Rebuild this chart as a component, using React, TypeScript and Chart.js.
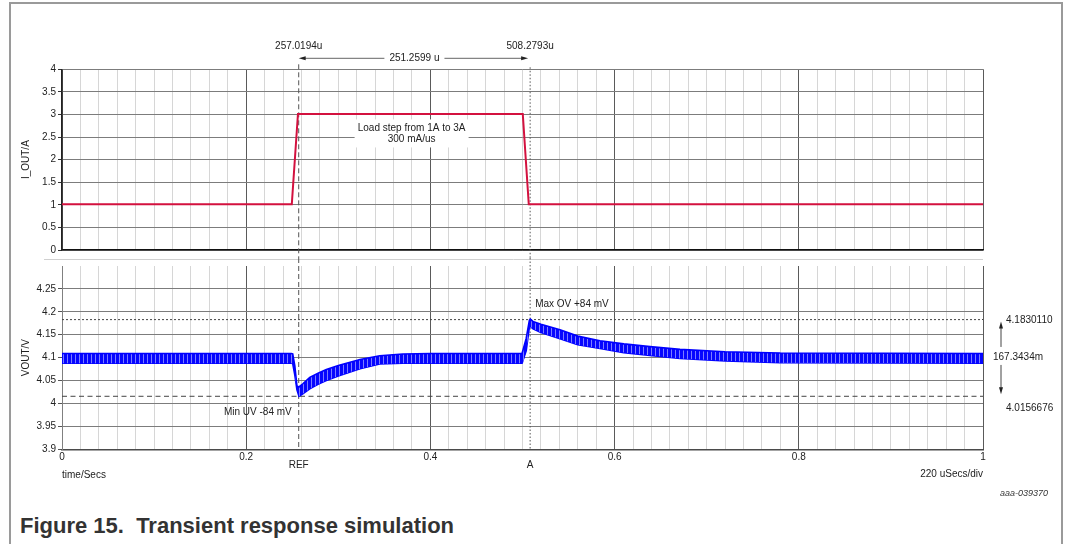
import React, { useEffect, useRef } from 'react';
import { Chart, registerables } from 'chart.js';

Chart.register(...registerables);

const FONT = '"Liberation Sans", Arial, Helvetica, sans-serif';

// ---------------- data ----------------
const xTickLabels = ['0', '0.2', '0.4', '0.6', '0.8', '1'];
const iTickLabels = ['0', '0.5', '1', '1.5', '2', '2.5', '3', '3.5', '4'];
const vTickLabels = ['3.9', '3.95', '4', '4.05', '4.1', '4.15', '4.2', '4.25'];

// load current I_OUT (A) vs time
const iTimes = [0, 0.2495, 0.2562, 0.5003, 0.5068, 1];
const iValues = [1.01, 1.01, 3.01, 3.01, 1.01, 1.01];

// output voltage VOUT (V) ripple band: upper and lower envelope vs time
const vTimes = [0, 0.249, 0.2505, 0.2528, 0.2551, 0.2573, 0.2615, 0.269, 0.278, 0.287, 0.3, 0.3236, 0.345, 0.37, 0.4, 0.4995, 0.5005, 0.504, 0.5075, 0.5085, 0.5114, 0.52, 0.5407, 0.56, 0.5841, 0.61, 0.6384, 0.671, 0.72, 0.78, 1];
const vHigh = [4.109, 4.109, 4.108, 4.082, 4.038, 4.036, 4.043, 4.057, 4.066, 4.074, 4.083, 4.096, 4.104, 4.108, 4.109, 4.109, 4.109, 4.142, 4.182, 4.184, 4.179, 4.173, 4.161, 4.147, 4.137, 4.13, 4.124, 4.118, 4.113, 4.11, 4.109];
const vLow = [4.088, 4.088, 4.087, 4.062, 4.03, 4.0157, 4.021, 4.032, 4.042, 4.05, 4.06, 4.076, 4.086, 4.088, 4.088, 4.088, 4.088, 4.115, 4.167, 4.168, 4.163, 4.155, 4.141, 4.128, 4.12, 4.111, 4.105, 4.098, 4.093, 4.089, 4.088];

// cursors / measurements
const refTime = 0.2570194;
const aTime = 0.5082793;
const refLabel = '257.0194u';
const aLabel = '508.2793u';
const deltaLabel = '251.2599 u';
const maxOvLevel = 4.183011;
const minUvLevel = 4.0156676;
const maxOvLabel = '4.1830110';
const minUvLabel = '4.0156676';
const spanLabel = '167.3434m';
const maxOvText = 'Max OV +84 mV';
const minUvText = 'Min UV -84 mV';
const loadStepLines = ['Load step from 1A to 3A', '300 mA/us'];
const loadLabelTime = 0.3796;
const loadLabelLevel = 2.58;

// --------------------------------------
const isMajor = (v: number) => Math.abs(v * 5 - Math.round(v * 5)) < 1e-6;
const xGridColor = (c: any) => (c.tick && isMajor(c.tick.value) ? '#5a5a5a' : '#d6d6d6');

function text(ctx: CanvasRenderingContext2D, s: string, x: number, y: number, align: CanvasTextAlign, font = `10px ${FONT}`, color = '#222') {
  ctx.font = font;
  ctx.fillStyle = color;
  ctx.textAlign = align;
  ctx.textBaseline = 'middle';
  ctx.fillText(s, x, y);
}
function seg(ctx: CanvasRenderingContext2D, x1: number, y1: number, x2: number, y2: number) {
  ctx.beginPath();
  ctx.moveTo(x1, y1);
  ctx.lineTo(x2, y2);
  ctx.stroke();
}
function tri(ctx: CanvasRenderingContext2D, pts: number[][]) {
  ctx.beginPath();
  ctx.moveTo(pts[0][0], pts[0][1]);
  ctx.lineTo(pts[1][0], pts[1][1]);
  ctx.lineTo(pts[2][0], pts[2][1]);
  ctx.closePath();
  ctx.fill();
}

const topPlugin = {
  id: 'topAnn',
  beforeDatasetsDraw(chart: any) {
    const { ctx, chartArea, scales } = chart;
    const xr = scales.x.getPixelForValue(refTime);
    const xa = scales.x.getPixelForValue(aTime);
    ctx.save();
    ctx.strokeStyle = '#555';
    ctx.lineWidth = 1;
    ctx.setLineDash([5, 3]);
    seg(ctx, xr, chartArea.top - 5, xr, chart.height);
    ctx.setLineDash([1.5, 2]);
    seg(ctx, xa, chartArea.top - 2, xa, chart.height);
    ctx.restore();
  },
  afterDatasetsDraw(chart: any) {
    const { ctx, chartArea, scales } = chart;
    const xr = scales.x.getPixelForValue(refTime);
    const xa = scales.x.getPixelForValue(aTime);
    ctx.save();
    text(ctx, refLabel, xr, chartArea.top - 23, 'center');
    text(ctx, aLabel, xa, chartArea.top - 23, 'center');
    const ya = chartArea.top - 11;
    const xm = (xr + xa) / 2;
    ctx.font = `10px ${FONT}`;
    const w = ctx.measureText(deltaLabel).width;
    text(ctx, deltaLabel, xm, ya, 'center');
    ctx.strokeStyle = '#666';
    ctx.fillStyle = '#222';
    ctx.lineWidth = 1;
    seg(ctx, xr + 4, ya, xm - w / 2 - 5, ya);
    seg(ctx, xm + w / 2 + 5, ya, xa - 5, ya);
    tri(ctx, [[xr, ya], [xr + 7, ya - 2], [xr + 7, ya + 2]]);
    tri(ctx, [[xa - 2, ya], [xa - 9, ya - 2], [xa - 9, ya + 2]]);
    // load step label box
    const cx = scales.x.getPixelForValue(loadLabelTime);
    const cy = scales.y.getPixelForValue(loadLabelLevel);
    ctx.fillStyle = '#fff';
    ctx.fillRect(cx - 57, cy - 14, 114, 28);
    text(ctx, loadStepLines[0], cx, cy - 5.5, 'center');
    text(ctx, loadStepLines[1], cx, cy + 5.5, 'center');
    ctx.restore();
  },
};

const bottomPlugin = {
  id: 'botAnn',
  beforeDatasetsDraw(chart: any) {
    const { ctx, chartArea, scales } = chart;
    const xr = scales.x.getPixelForValue(refTime);
    const xa = scales.x.getPixelForValue(aTime);
    ctx.save();
    ctx.strokeStyle = '#d0d0d0';
    ctx.lineWidth = 1;
    seg(ctx, 44, 1.5, chartArea.right, 1.5);
    ctx.strokeStyle = '#555';
    ctx.setLineDash([5, 3]);
    seg(ctx, xr, 0, xr, chartArea.bottom);
    ctx.setLineDash([1.5, 2]);
    seg(ctx, xa, 0, xa, chartArea.bottom);
    ctx.restore();
  },
  afterDatasetsDraw(chart: any) {
    const { ctx, chartArea, scales } = chart;
    const xr = scales.x.getPixelForValue(refTime);
    const xa = scales.x.getPixelForValue(aTime);
    const yHi = scales.y.getPixelForValue(maxOvLevel);
    const yLo = scales.y.getPixelForValue(minUvLevel);
    ctx.save();
    text(ctx, maxOvText, xa + 5, yHi - 15.5, 'left');
    text(ctx, minUvText, xr - 7, yLo + 16.3, 'right');
    const r = chartArea.right;
    text(ctx, maxOvLabel, r + 23, yHi + 1, 'left');
    text(ctx, minUvLabel, r + 23, yLo + 12.3, 'left');
    const ym = (yHi + yLo) / 2 - 1;
    text(ctx, spanLabel, r + 10, ym, 'left');
    ctx.strokeStyle = '#444';
    ctx.fillStyle = '#222';
    ctx.lineWidth = 1;
    const ax = r + 18;
    seg(ctx, ax, yHi + 6, ax, ym - 10);
    seg(ctx, ax, ym + 8, ax, yLo - 6);
    tri(ctx, [[ax, yHi + 2], [ax - 2, yHi + 9], [ax + 2, yHi + 9]]);
    tri(ctx, [[ax, yLo - 2], [ax - 2, yLo - 9], [ax + 2, yLo - 9]]);
    const b = chartArea.bottom;
    text(ctx, 'REF', xr, b + 16, 'center');
    text(ctx, 'A', xa, b + 16, 'center');
    text(ctx, 'time/Secs', chartArea.left, b + 26, 'left');
    text(ctx, '220 uSecs/div', r, b + 25, 'right');
    text(ctx, 'aaa-039370', 1048, b + 44, 'right', `italic 9px ${FONT}`, '#333');
    ctx.restore();
  },
};

export default function App() {
  const topRef = useRef<HTMLCanvasElement>(null);
  const botRef = useRef<HTMLCanvasElement>(null);

  useEffect(() => {
    Chart.defaults.font.family = FONT;
    Chart.defaults.font.size = 10;
    Chart.defaults.color = '#222';

    const topChart = new Chart(topRef.current as HTMLCanvasElement, {
      type: 'line',
      data: {
        datasets: [
          {
            data: iTimes.map((t, i) => ({ x: t, y: iValues[i] })),
            borderColor: '#d3113f',
            borderWidth: 2,
            pointRadius: 0,
            tension: 0,
          },
        ],
      },
      options: {
        animation: false,
        responsive: false,
        events: [],
        layout: { padding: { left: 16, right: 86, top: 69.3, bottom: 0 } },
        plugins: { legend: { display: false }, tooltip: { enabled: false } },
        scales: {
          x: {
            type: 'linear',
            min: 0,
            max: 1,
            ticks: { display: false, stepSize: 0.02, autoSkip: false },
            grid: { color: xGridColor, lineWidth: 1, drawTicks: false },
            border: { color: '#111', width: 1.5 },
            afterFit: (s: any) => { s.height = 4.7; },
          },
          y: {
            type: 'linear',
            min: 0,
            max: 4,
            ticks: { stepSize: 0.5, padding: 2, color: '#222', callback: (_v: any, i: number) => iTickLabels[i] ?? '' },
            grid: { color: '#7c7c7c', tickLength: 4, tickColor: '#333' },
            border: { color: '#222', width: 1.5 },
            title: { display: true, text: 'I_OUT/A', color: '#222', font: { size: 10 }, padding: { top: 4, bottom: 4 } },
            afterFit: (s: any) => { s.width = 46; },
          },
        },
      } as any,
      plugins: [topPlugin],
    });

    const bctx = (botRef.current as HTMLCanvasElement).getContext('2d') as CanvasRenderingContext2D;
    const pc = document.createElement('canvas');
    pc.width = 4;
    pc.height = 1;
    const pctx = pc.getContext('2d') as CanvasRenderingContext2D;
    pctx.fillStyle = '#0606ff';
    pctx.fillRect(0, 0, 4, 1);
    pctx.fillStyle = '#7d7dff';
    pctx.fillRect(3, 0, 1, 1);
    const pattern = bctx.createPattern(pc, 'repeat');

    const botChart = new Chart(botRef.current as HTMLCanvasElement, {
      type: 'line',
      data: {
        datasets: [
          {
            data: vTimes.map((t, i) => ({ x: t, y: vHigh[i] })),
            borderColor: '#0000ff',
            borderWidth: 1.6,
            pointRadius: 0,
            tension: 0,
            fill: '+1',
            backgroundColor: pattern as any,
          },
          {
            data: vTimes.map((t, i) => ({ x: t, y: vLow[i] })),
            borderColor: '#0000ff',
            borderWidth: 1.6,
            pointRadius: 0,
            tension: 0,
            fill: false,
          },
          {
            data: [{ x: 0, y: maxOvLevel }, { x: 1, y: maxOvLevel }],
            borderColor: '#444',
            borderWidth: 1,
            borderDash: [2, 2],
            pointRadius: 0,
            fill: false,
          },
          {
            data: [{ x: 0, y: minUvLevel }, { x: 1, y: minUvLevel }],
            borderColor: '#444',
            borderWidth: 1,
            borderDash: [5, 3.5],
            pointRadius: 0,
            fill: false,
          },
        ],
      },
      options: {
        animation: false,
        responsive: false,
        events: [],
        layout: { padding: { left: 16, right: 86, top: 7.3, bottom: 35.7 } },
        plugins: { legend: { display: false }, tooltip: { enabled: false } },
        scales: {
          x: {
            type: 'linear',
            min: 0,
            max: 1,
            ticks: {
              stepSize: 0.02,
              autoSkip: false,
              maxRotation: 0,
              padding: 2,
              color: '#222',
              callback: (v: any) => {
                const k = Math.round(Number(v) * 50);
                return k % 10 === 0 ? xTickLabels[k / 10] : '';
              },
            },
            grid: { color: xGridColor, lineWidth: 1, drawTicks: false },
            border: { color: '#4a4a4a', width: 1.5 },
            afterFit: (s: any) => { s.height = 20; },
          },
          y: {
            type: 'linear',
            min: 3.9,
            max: 4.3,
            ticks: { stepSize: 0.05, padding: 2, color: '#222', callback: (_v: any, i: number) => vTickLabels[i] ?? '' },
            grid: {
              color: (c: any) => (c.tick && c.tick.value > 4.29 ? 'rgba(0,0,0,0)' : '#7c7c7c'),
              tickColor: (c: any) => (c.tick && c.tick.value > 4.29 ? 'rgba(0,0,0,0)' : '#555'),
              tickLength: 4,
            },
            border: { color: '#808080', width: 1 },
            title: { display: true, text: 'VOUT/V', color: '#222', font: { size: 10 }, padding: { top: 4, bottom: 4 } },
            afterFit: (s: any) => { s.width = 46; },
          },
        },
      } as any,
      plugins: [bottomPlugin],
    });

    return () => {
      topChart.destroy();
      botChart.destroy();
    };
  }, []);

  return (
    <div style={{ position: 'absolute', left: 0, top: 0, width: 1069, height: 544, overflow: 'hidden', background: '#fff', fontFamily: FONT }}>
      <div style={{ position: 'absolute', left: 9, top: 2, width: 1054, height: 620, border: '2px solid #9a9a9a', boxSizing: 'border-box' }} />
      <canvas ref={topRef} width={1069} height={258} style={{ position: 'absolute', left: 0, top: 0 }} />
      <canvas ref={botRef} width={1069} height={247} style={{ position: 'absolute', left: 0, top: 258 }} />
      <div style={{ position: 'absolute', left: 20, top: 515, fontSize: 22, lineHeight: '22px', fontWeight: 'bold', color: '#333', whiteSpace: 'pre' }}>
        {'Figure 15.  Transient response simulation'}
      </div>
    </div>
  );
}
